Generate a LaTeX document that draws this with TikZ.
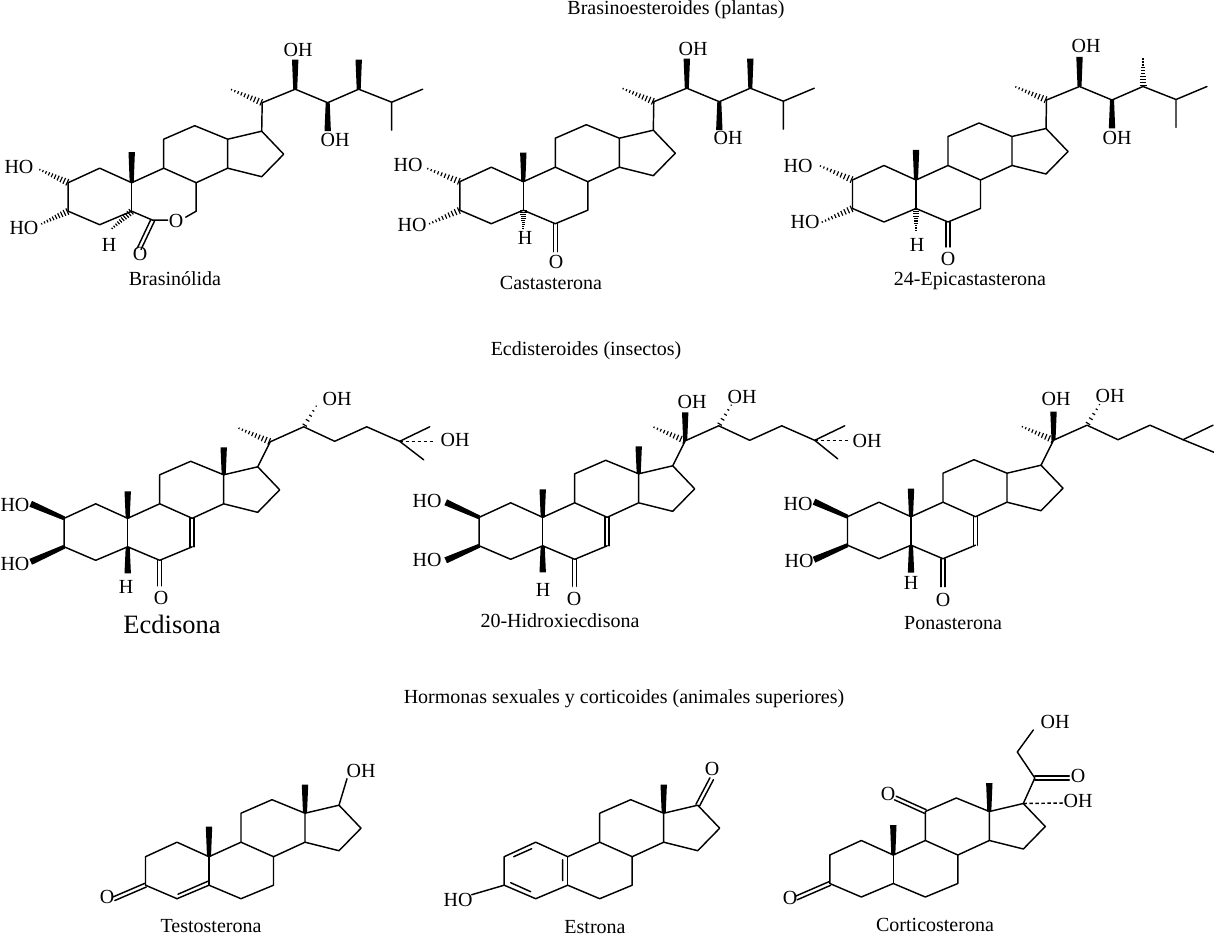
\documentclass[tikz,border=0pt]{standalone}
\usepackage{fontspec}
\setmainfont{Liberation Serif}
\usetikzlibrary{calc}
\tikzset{
  bond/.style={line width=1.45pt,line cap=round,line join=round,draw=black},
  hashline/.style={line width=1.15pt,draw=black},
  wedgefill/.style={fill=black,draw=none},
  lab/.style={inner sep=0pt,font=\fontsize{20}{22}\selectfont},
  captxt/.style={inner sep=0pt,font=\fontsize{20}{22}\selectfont},
  bigcap/.style={inner sep=0pt,font=\fontsize{26.5}{30}\selectfont},
  dashbond/.style={line width=1.45pt,dash pattern=on 3.5pt off 2.5pt}
}
% wedge: narrower at #2, wider at #3
\newcommand{\wdg}[3][3.2]{\fill[wedgefill] ($(#2)!2pt!90:(#3)$) -- ($(#2)!2pt!-90:(#3)$) -- ($(#3)!#1pt!90:(#2)$) -- ($(#3)!#1pt!-90:(#2)$) -- cycle;}
% hashed wedge: wide at #1, narrow at #2
\newcommand{\hsh}[2]{\foreach \t in {0.03,0.13,...,1.0}{\pgfmathsetlengthmacro\w{(1-\t)*3pt+0.6pt}\draw[hashline] ($(#1)!\t!(#2)!\w!90:(#2)$) -- ($(#1)!\t!(#2)!\w!-90:(#2)$);}}
\newcommand{\dbl}[3][2]{\draw[bond] ($(#2)!#1pt!90:(#3)$) -- ($(#3)!#1pt!-90:(#2)$); \draw[bond] ($(#2)!#1pt!-90:(#3)$) -- ($(#3)!#1pt!90:(#2)$);}
% common skeleton coordinates, relative to C10
\newcommand{\skel}{
  \coordinate (a) at (-63.5,0); \coordinate (b) at (-32,-14.5); \coordinate (c) at (0,0);
  \coordinate (d) at (0,28.5); \coordinate (e) at (-32,42); \coordinate (f) at (-63.5,28.5);
  \coordinate (g) at (32,-14.5); \coordinate (h) at (64.5,0); \coordinate (i) at (64.5,28.5);
  \coordinate (j) at (32,42); \coordinate (k) at (32,-43.5); \coordinate (l) at (63,-57);
  \coordinate (m) at (96,-43.5); \coordinate (n) at (96,-14.5); \coordinate (o) at (130,-51.5);
  \coordinate (p) at (152,-28.5); \coordinate (q) at (130,-6);
  \draw[bond] (c)--(g)--(k)--(l)--(m)--(n)--(h)--(g) (m)--(o)--(p)--(q)--(n);
  \draw[bond] (c)--(d);
}
% brassinosteroid side chain
\newcommand{\brside}{
  \coordinate (s20) at (130.5,-80); \coordinate (me) at (97.5,-94); \coordinate (s22) at (163.5,-93.5);
  \coordinate (oh22) at (163.5,-123); \coordinate (s23) at (196,-80); \coordinate (oh23) at (196,-51.5);
  \coordinate (s24) at (227,-93.5); \coordinate (me24) at (227,-123); \coordinate (s25) at (260,-80.5);
  \coordinate (e1) at (291,-93.5); \coordinate (e2) at (260,-52.5);
  \draw[bond] (o)--(s20)--(s22)--(s23)--(s24)--(s25)--(e1) (s25)--(e2);
  \hsh{s20}{me}
  \wdg{s22}{oh22} \wdg{s23}{oh23}
}
% ecdysteroid side chain
\newcommand{\ecside}{
  \coordinate (s20) at (142.5,-76.5); \coordinate (me) at (109,-91); \coordinate (s22) at (176,-91.5);
  \coordinate (oh22) at (189,-113); \coordinate (s23) at (207,-77); \coordinate (s24) at (239,-91.5);
  \coordinate (s25) at (272,-77); \coordinate (e1) at (302,-91.5);
  \draw[bond] (o)--(s20)--(s22)--(s23)--(s24)--(s25)--(e1);
  \hsh{s20}{me}
  \foreach \t in {0.08,0.3,0.52,0.74,0.96}{\pgfmathsetlengthmacro\w{(1-\t)*2.2pt+0.5pt}\draw[hashline] ($(s22)!\t!(oh22)!\w!90:(oh22)$) -- ($(s22)!\t!(oh22)!\w!-90:(oh22)$);}
}
\begin{document}
\begin{tikzpicture}[x=1pt,y=-1pt]
\useasboundingbox (0,0) rectangle (1214,936);
\clip (0,0) rectangle (1214,936);
\fill[white] (0,0) rectangle (1214,936);

% Brasinolida
\begin{scope}[shift={(131.7,182.7)}]
\skel \brside
\coordinate (cO) at (21,37.5); \coordinate (rO) at (36,37.5); \coordinate (rO2) at (54,34.5); \coordinate (oc) at (7.5,66);
\coordinate (hT) at (-21,47); \coordinate (ho1) at (-94,-14); \coordinate (ho2) at (-92,42);
\coordinate (me10) at (0,-30.5);
\draw[bond] (a)--(b)--(c) (a)--(f)--(e)--(d)--(cO)--(rO) (rO2)--(i)--(h);
\hsh{a}{ho1} \hsh{f}{ho2} \hsh{d}{hT}
\wdg{c}{me10}
\dbl{cO}{oc}
\wdg{s24}{me24}
\end{scope}

% Castasterona
\begin{scope}[shift={(523.3,181.7)}]
\skel \brside
\draw[bond] (a)--(b)--(c) (a)--(f)--(e)--(d)--(j)--(i)--(h);
\coordinate (ho1) at (-98,-14); \coordinate (ho2) at (-96,43); \coordinate (hT) at (0,48);
\coordinate (oc) at (32,70); \coordinate (me10) at (0,-29);
\hsh{a}{ho1} \hsh{f}{ho2} \hsh{d}{hT}
\wdg{c}{me10} \dbl{j}{oc} \wdg{s24}{me24}
\end{scope}

% 24-Epicastasterona
\begin{scope}[shift={(916,180)}]
\skel \brside
\draw[bond] (a)--(b)--(c) (a)--(f)--(e)--(d)--(j)--(i)--(h);
\coordinate (ho1) at (-98,-15); \coordinate (ho2) at (-96,43); \coordinate (hT) at (0,52);
\coordinate (oc) at (32,67); \coordinate (me10) at (0,-30);
\hsh{a}{ho1} \hsh{f}{ho2} \hsh{d}{hT}
\wdg{c}{me10} \dbl{j}{oc} \hsh{s24}{me24}
\end{scope}

% Ecdisona
\begin{scope}[shift={(127.7,518.3)}]
\skel \ecside
\draw[bond] (a)--(b)--(c) (a)--(f)--(e)--(d)--(j)--(i);
\coordinate (ho1) at (-97,-14.5); \coordinate (ho2) at (-97,43.5); \coordinate (hT) at (0,55);
\coordinate (oc) at (32,67.5); \coordinate (me10) at (0,-27); \coordinate (me13) at (96,-71);
\coordinate (e2) at (296,-58.5); \coordinate (ohe) at (307,-77);
\draw[bond] (s25)--(e2);
\draw[dashbond] (s25)--(ohe);
\wdg{c}{me10} \wdg{m}{me13} \wdg{d}{hT} \dbl{j}{oc} \dbl{h}{i}
\wdg{a}{ho1} \wdg{f}{ho2}
\end{scope}

% 20-Hidroxiecdisona
\begin{scope}[shift={(542.7,517.3)}]
\skel \ecside
\draw[bond] (a)--(b)--(c) (a)--(f)--(e)--(d)--(j)--(i);
\coordinate (ho1) at (-97,-15); \coordinate (ho2) at (-97,43); \coordinate (hT) at (0,55);
\coordinate (oc) at (32,69); \coordinate (me10) at (0,-28); \coordinate (me13) at (96,-71);
\coordinate (e2) at (295,-58.5); \coordinate (ohe) at (305,-77); \coordinate (oh20) at (142.5,-105);
\draw[bond] (s25)--(e2);
\draw[dashbond] (s25)--(ohe);
\wdg{c}{me10} \wdg{m}{me13} \wdg{d}{hT} \dbl{j}{oc} \dbl{h}{i}
\wdg{a}{ho1} \wdg{f}{ho2} \wdg{s20}{oh20}
\end{scope}

% Ponasterona
\begin{scope}[shift={(911,516.7)}]
\skel \ecside
\draw[bond] (a)--(b)--(c) (a)--(f)--(e)--(d)--(j)--(i);
\coordinate (ho1) at (-97,-15); \coordinate (ho2) at (-97,43); \coordinate (hT) at (0,56);
\coordinate (oc) at (32,70); \coordinate (me10) at (0,-28); \coordinate (e2) at (304,-64);
\coordinate (oh20) at (142.5,-105);
\draw[bond] (s25)--(e2);
\wdg{c}{me10} \wdg{d}{hT} \dbl{j}{oc} \dbl{h}{i}
\wdg{a}{ho1} \wdg{f}{ho2} \wdg{s20}{oh20}
\end{scope}

% Testosterona
\begin{scope}[shift={(209,856.7)}]
\skel
\draw[bond] (a)--(b)--(c) (a)--(f)--(e) (d)--(j)--(i)--(h);
\coordinate (oc) at (-95,42); \coordinate (me10) at (0,-30); \coordinate (me13) at (96,-72);
\coordinate (ohT) at (138,-78); \coordinate (d1) at (-31,37.5); \coordinate (d2) at (-1,24.5);
\draw[bond] (o)--(ohT);
\wdg{c}{me10} \wdg{m}{me13}
\draw[bond] (e)--(d);
\draw[bond] (d1)--(d2);
\dbl{f}{oc}
\end{scope}

% Estrona
\begin{scope}[shift={(567.7,856.7)}]
\skel
\draw[bond] (a)--(b)--(c) (a)--(f)--(e)--(d)--(j)--(i)--(h);
\coordinate (oc) at (144,-78); \coordinate (me13) at (96,-72); \coordinate (hoT) at (-96,38);
\coordinate (i1) at (-54,0); \coordinate (i2) at (-36,-8); \coordinate (i3) at (-5,3);
\coordinate (i4) at (-5,24); \coordinate (i5) at (-57,26); \coordinate (i6) at (-37,35);
\draw[bond] (f)--(hoT);
\draw[bond] (i1)--(i2) (i3)--(i4) (i5)--(i6);
\wdg{m}{me13}
\dbl{o}{oc}
\end{scope}

% Corticosterona
\begin{scope}[shift={(893.3,855)}]
\skel
\draw[bond] (a)--(b)--(c) (a)--(f)--(e)--(d)--(j)--(i)--(h);
\coordinate (oc1) at (-97,43); \coordinate (oc2) at (2,-57); \coordinate (me10) at (0,-30);
\coordinate (me13) at (96,-72); \coordinate (c20) at (141.5,-77); \coordinate (c21) at (124,-103);
\coordinate (oh21) at (140,-125); \coordinate (o20) at (176,-77); \coordinate (oh17) at (170,-52);
\draw[bond] (o)--(c20)--(c21)--(oh21);
\draw[dashbond] (o)--(oh17);
\dbl{f}{oc1} \dbl{k}{oc2} \dbl{c20}{o20}
\wdg{c}{me10} \wdg{m}{me13}
\end{scope}

% Labels
\node[captxt] (t1) at (676,10) {Brasinoesteroides (plantas)};
\node[captxt] (t2) at (586,351) {Ecdisteroides (insectos)};
\node[captxt] (t3) at (624,699) {Hormonas sexuales y corticoides (animales superiores)};
\node[captxt] (n1) at (175,279) {Brasinólida};
\node[captxt] (n2) at (551,283) {Castasterona};
\node[captxt] (n3) at (970,281) {24-Epicastasterona};
\node[bigcap] (n4) at (172,624) {Ecdisona};
\node[captxt] (n5) at (560,621) {20-Hidroxiecdisona};
\node[captxt] (n6) at (953,623) {Ponasterona};
\node[captxt] (n7) at (211,926) {Testosterona};
\node[captxt] (n8) at (595,927) {Estrona};
\node[captxt] (n9) at (935,925) {Corticosterona};
\foreach \x/\y/\s [count=\i] in {
 19/167/HO,24/228/HO,109/245/H,140/254/O,176/221/O,298/50/OH,335/140/OH,
 408/165/HO,412/225/HO,525/238/H,556/262/O,693/49/OH,728/138/OH,
 798/166/HO,805/222/HO,917/245/H,948/259/O,1086/46/OH,1117/138/OH,
 15/505/HO,15/564/HO,126/587/H,161/598/O,337/399/OH,455/440/OH,
 427/501/HO,427/560/HO,543/590/H,574/599/O,692/402/OH,742/397/OH,867/441/OH,
 798/504/HO,799/561/HO,911/583/H,943/600/O,1056/399/OH,1110/396/OH,
 107/897/O,361/771/OH,458/900/HO,712/769/O,790/898/O,888/794/O,1078/801/OH,1078/776/O,1055/722/OH}
 {\node[lab] (l\i) at (\x,\y) {\s};}
\end{tikzpicture}
\end{document}
